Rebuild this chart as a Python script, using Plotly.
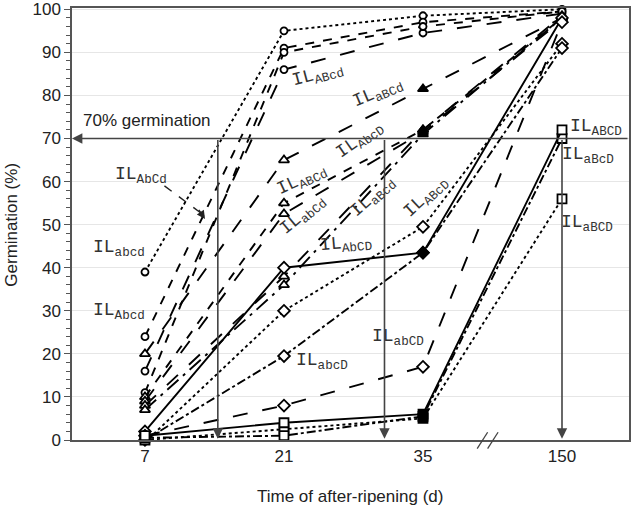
import plotly.graph_objects as go

days = ["7", "21", "35", "150"]
xpos = [0, 1, 2, 3]

names = ["abcd", "Abcd", "ABcd", "AbCd", "aBCd", "ABCd", "abCd", "aBcd",
         "AbcD", "ABcD", "abcD", "AbCD", "abCD", "aBCD", "aBcD", "ABCD"]
values = {
    "abcd": [39, 95, 98.5, 100],
    "Abcd": [24, 91, 97, 99.5],
    "ABcd": [16, 86, 94.5, 99],
    "AbCd": [11, 90, 96, 99.5],
    "aBCd": [20, 65, 81.5, 98],
    "ABCd": [10, 55, 72, 98],
    "abCd": [9, 52.5, 71.5, 97.5],
    "aBcd": [8, 38, 72, 98.5],
    "AbcD": [7, 36, 71, 98],
    "AbCD": [2, 40, 43.5, 98],
    "ABcD": [-0.5, 30, 49.5, 92],
    "abcD": [0, 19.5, 43.5, 91],
    "abCD": [1, 8, 17, 97],
    "ABCD": [1, 4, 6, 72],
    "aBcD": [0.5, 1, 5.5, 70],
    "aBCD": [0, 2.5, 5, 56],
}
symbols = {"abcd": "circle", "Abcd": "circle", "ABcd": "circle", "AbCd": "circle",
           "aBCd": "triangle-up", "ABCd": "triangle-up", "abCd": "triangle-up",
           "aBcd": "triangle-up", "AbcD": "triangle-up",
           "AbCD": "diamond", "ABcD": "diamond", "abcD": "diamond", "abCD": "diamond",
           "ABCD": "square", "aBcD": "square", "aBCD": "square"}
dashes = {"abcd": "dot", "Abcd": "dash", "ABcd": "longdash", "AbCd": "dash",
          "aBCd": "longdash", "ABCd": "dash", "abCd": "longdash", "aBcd": "longdash",
          "AbcD": "longdashdot", "AbCD": "solid", "ABcD": "dot", "abcD": "dashdot",
          "abCD": "longdash", "ABCD": "solid", "aBcD": "dashdot", "aBCD": "dot"}
filled35 = {"aBCd", "ABCd", "abCd", "aBcd", "AbcD", "AbCD", "ABCD", "aBcD", "aBCD"}

fig = go.Figure()
for n in names:
    fills = ["white"] * 4
    if n in filled35:
        fills[2] = "black"
    sz = 7 if symbols[n] == "circle" else 9
    fig.add_trace(go.Scatter(
        x=xpos, y=values[n], mode="lines+markers", cliponaxis=False,
        line=dict(color="black", width=1.9, dash=dashes[n]),
        marker=dict(symbol=symbols[n], size=sz, color=fills,
                    line=dict(color="black", width=1.8)),
        showlegend=False, name="IL" + n))

lab_font = dict(family="Liberation Mono, Courier New, monospace", size=18, color="#333")
labels = [
    ("abcd", -0.187, 44.5, 0), ("Abcd", -0.187, 29.9, 0), ("AbCd", -0.03, 61.5, 0),
    ("ABcd", 1.245, 84.7, -15), ("aBCd", 1.676, 80.5, -23), ("AbcD", 1.547, 69.6, -35),
    ("ABCd", 1.129, 60.3, -25), ("abCd", 1.137, 52.2, -40), ("aBcd", 1.640, 56.4, -42),
    ("ABcD", 2.022, 56.4, -43), ("AbCD", 1.446, 45.5, -5), ("abCD", 1.820, 23.9, 0),
    ("abcD", 1.273, 18.3, 0), ("ABCD", 3.245, 72.6, 0), ("aBcD", 3.187, 66.1, 0),
    ("aBCD", 3.180, 50.3, 0),
]
for n, x, y, rot in labels:
    fig.add_annotation(x=x, y=y, xref="x", yref="y", text="IL<sub>" + n + "</sub>",
                       showarrow=False, font=lab_font, textangle=rot)

# arrow to IL_AbCd line
fig.add_shape(type="line", xref="x", yref="y", x0=0.14, y0=59, x1=0.41, y1=52.5,
              line=dict(color="#222", width=1.4, dash="dash"))
fig.add_annotation(x=0.432, y=51.3, ax=0.38, ay=53.8, xref="x", yref="y", axref="x", ayref="y",
                   text="", showarrow=True, arrowhead=2, arrowsize=1.2, arrowwidth=1.4, arrowcolor="#222")

# 70% germination line and arrows
arrow_col = "#444"
fig.add_annotation(x=-0.525, y=70, ax=3.482, ay=70, xref="x", yref="y", axref="x", ayref="y",
                   text="", showarrow=True, arrowhead=2, arrowsize=1.3, arrowwidth=1.6, arrowcolor=arrow_col)
for xv in [0.524, 1.723, 3.0]:
    fig.add_annotation(x=xv, y=0.3, ax=xv, ay=70, xref="x", yref="y", axref="x", ayref="y",
                       text="", showarrow=True, arrowhead=2, arrowsize=1.3, arrowwidth=1.6, arrowcolor=arrow_col)
fig.add_annotation(x=0.014, y=74.2, xref="x", yref="y", text="70% germination", showarrow=False,
                   font=dict(family="Liberation Sans, Arial", size=17, color="#222"))

# axis titles
fig.add_annotation(x=0.499, y=-0.13, xref="paper", yref="paper", text="Time of after-ripening (d)",
                   showarrow=False, xanchor="center", yanchor="middle",
                   font=dict(size=17, color="#222"))
fig.add_annotation(x=-0.108, y=0.498, xref="paper", yref="paper", text="Germination (%)",
                   showarrow=False, textangle=-90, xanchor="center", yanchor="middle",
                   font=dict(size=17, color="#222"))

# axis break marks
for x0 in [2.39, 2.465]:
    fig.add_shape(type="line", xref="x", yref="paper", x0=x0, y0=-0.02, x1=x0 + 0.075, y1=0.018,
                  line=dict(color="#444", width=1.3))

fig.update_layout(
    width=633, height=506,
    margin=dict(l=72, r=4, t=8, b=66, autoexpand=False),
    plot_bgcolor="white", paper_bgcolor="white",
    font=dict(family="Liberation Sans, Arial", size=17, color="#222"),
)
fig.update_xaxes(range=[-0.525, 3.482], tickvals=xpos, ticktext=days, ticks="",
                 showgrid=False, zeroline=False, showline=True, mirror=True,
                 linecolor="#555", linewidth=1.5, automargin=False,
                 tickfont=dict(size=17))
fig.update_yaxes(range=[0, 100.3], tickvals=list(range(0, 101, 10)), ticks="outside", ticklen=6,
                 tickcolor="#555", showgrid=True, gridcolor="#e6e6e6", gridwidth=1,
                 zeroline=False, showline=True, mirror=True, linecolor="#555", linewidth=1.5,
                 automargin=False,
                 minor=dict(dtick=2, ticks="outside", ticklen=4, tickcolor="#555", showgrid=False),
                 tickfont=dict(size=17))

fig.write_html("out.html", config={"displayModeBar": False},
               post_script="document.body.style.margin='0px';")
